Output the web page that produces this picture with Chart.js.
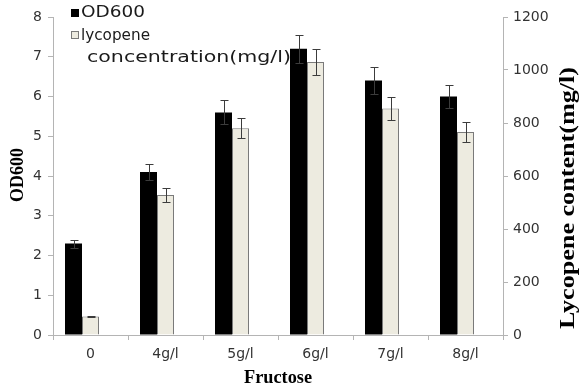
<!DOCTYPE html>
<html>
<head>
<meta charset="utf-8">
<script src="https://cdn.jsdelivr.net/npm/chart.js@4.4.0/dist/chart.umd.min.js"></script>
<style>
  html, body { margin: 0; padding: 0; background: #fff; }
  canvas { display: block; }
</style>
</head>
<body>
<canvas id="fructosaChart" width="581" height="391"></canvas>
<script>
// datos
const categorias = ["0", "4g/l", "5g/l", "6g/l", "7g/l", "8g/l"];
const od600 = [2.3, 4.1, 5.6, 7.2, 6.4, 6.0];
const od600Error = [0.1, 0.2, 0.3, 0.35, 0.33, 0.3];
const licopeno = [70, 528, 780, 1030, 855, 766];
const licopenoError = [2, 25, 38, 50, 42, 38];
const huecoVacio = [null, null, null, null, null, null];

const serieOD = "OD600";
const serieLicopenoL1 = "lycopene";
const serieLicopenoL2 = "concentration(mg/l)";
const tituloX = "Fructose";
const tituloIzq = "OD600";
const tituloDer = "Lycopene content(mg/l)";

const GRIS_EJE = "#b4b4b4";
const CREMA = "#edebe0";

// texto estirado a un ancho dado (el original está deformado)
function textoAjustado(ctx, texto, x, y, ancho, angulo) {
  ctx.save();
  ctx.translate(x, y);
  ctx.rotate(angulo || 0);
  const natural = ctx.measureText(texto).width;
  ctx.scale(ancho / natural, 1);
  ctx.fillText(texto, 0, 0);
  ctx.restore();
}

// barras de error
const barrasError = {
  id: "barrasError",
  afterDatasetsDraw(chart) {
    const ctx = chart.ctx;
    chart.data.datasets.forEach((ds, i) => {
      if (!ds.errores) return;
      const meta = chart.getDatasetMeta(i);
      const escala = chart.scales[ds.yAxisID];
      meta.data.forEach((barra, j) => {
        const v = ds.data[j];
        const e = ds.errores[j];
        const yArriba = Math.round(escala.getPixelForValue(v + e)) + 0.5;
        const yAbajo = Math.round(escala.getPixelForValue(v - e)) + 0.5;
        const x = Math.round(barra.x) + 0.5;
        ctx.save();
        ctx.strokeStyle = "#3c3c3c";
        ctx.lineWidth = 1;
        ctx.beginPath();
        ctx.moveTo(x, yArriba); ctx.lineTo(x, yAbajo);
        ctx.moveTo(x - 4, yArriba); ctx.lineTo(x + 4, yArriba);
        ctx.moveTo(x - 4, yAbajo); ctx.lineTo(x + 4, yAbajo);
        ctx.stroke();
        ctx.restore();
      });
    });
  }
};

// leyenda y títulos de ejes
const textos = {
  id: "textos",
  afterDraw(chart) {
    const ctx = chart.ctx;
    const area = chart.chartArea;
    ctx.save();
    ctx.textBaseline = "alphabetic";

    // leyenda
    ctx.fillStyle = "#000";
    ctx.fillRect(71, 9, 8, 8);
    ctx.fillStyle = CREMA;
    ctx.fillRect(71, 31, 8, 8);
    ctx.strokeStyle = "#7a7a7a";
    ctx.lineWidth = 1;
    ctx.strokeRect(71.5, 31.5, 7, 7);

    ctx.fillStyle = "#1a1a1a";
    ctx.font = "15px 'DejaVu Sans'";
    ctx.textAlign = "left";
    textoAjustado(ctx, serieOD, 81, 17, 64);
    textoAjustado(ctx, serieLicopenoL1, 81, 40, 69);
    textoAjustado(ctx, serieLicopenoL2, 87, 62, 204);

    // títulos
    ctx.fillStyle = "#000";
    ctx.font = "bold 18px 'Liberation Serif'";
    ctx.textAlign = "center";
    textoAjustado(ctx, tituloX, (area.left + area.right) / 2, 383, 68);
    textoAjustado(ctx, tituloIzq, 23, 175, 54, -Math.PI / 2);
    ctx.font = "bold 20px 'Liberation Serif'";
    textoAjustado(ctx, tituloDer, 574, 198, 262, -Math.PI / 2);
    ctx.restore();
  }
};

const fuenteTicks = { family: "DejaVu Sans", size: 14 };
const sinComas = (v) => String(v);

const ctx = document.getElementById("fructosaChart").getContext("2d");

new Chart(ctx, {
  type: "bar",
  data: {
    labels: categorias,
    datasets: [
      {
        label: serieOD,
        data: od600,
        errores: od600Error,
        yAxisID: "y",
        backgroundColor: "#000000",
        borderColor: "#000000",
        borderWidth: 0
      },
      {
        label: serieLicopenoL1 + " " + serieLicopenoL2,
        data: licopeno,
        errores: licopenoError,
        yAxisID: "y1",
        backgroundColor: CREMA,
        borderColor: "#7a7a7a",
        borderWidth: 1
      },
      {
        // hueco a la derecha de cada grupo, como en el original
        label: "",
        data: huecoVacio,
        yAxisID: "y",
        backgroundColor: "rgba(0,0,0,0)"
      }
    ]
  },
  options: {
    responsive: false,
    animation: false,
    layout: { padding: { top: 17, left: 0, right: 0, bottom: 0 } },
    datasets: {
      bar: { categoryPercentage: 0.68, barPercentage: 1 }
    },
    plugins: {
      legend: { display: false },
      tooltip: { enabled: false }
    },
    scales: {
      x: {
        offset: true,
        grid: {
          display: true,
          offset: true,
          drawOnChartArea: false,
          drawTicks: true,
          tickLength: 5,
          color: GRIS_EJE
        },
        border: { display: true, color: GRIS_EJE },
        ticks: { color: "#333", padding: 6, font: fuenteTicks },
        afterFit(scale) { scale.height = 56; }
      },
      y: {
        position: "left",
        min: 0,
        max: 8,
        ticks: { stepSize: 1, color: "#333", padding: 6, font: fuenteTicks, callback: sinComas },
        grid: {
          display: true,
          drawOnChartArea: false,
          drawTicks: true,
          tickLength: 5,
          color: GRIS_EJE
        },
        border: { display: true, color: GRIS_EJE },
        afterFit(scale) { scale.width = 53; }
      },
      y1: {
        position: "right",
        min: 0,
        max: 1200,
        ticks: { stepSize: 200, color: "#333", padding: 5, font: fuenteTicks, callback: sinComas },
        grid: {
          display: true,
          drawOnChartArea: false,
          drawTicks: true,
          tickLength: 5,
          color: GRIS_EJE
        },
        border: { display: true, color: GRIS_EJE },
        afterFit(scale) { scale.width = 78; }
      }
    }
  },
  plugins: [barrasError, textos]
});
</script>
</body>
</html>
